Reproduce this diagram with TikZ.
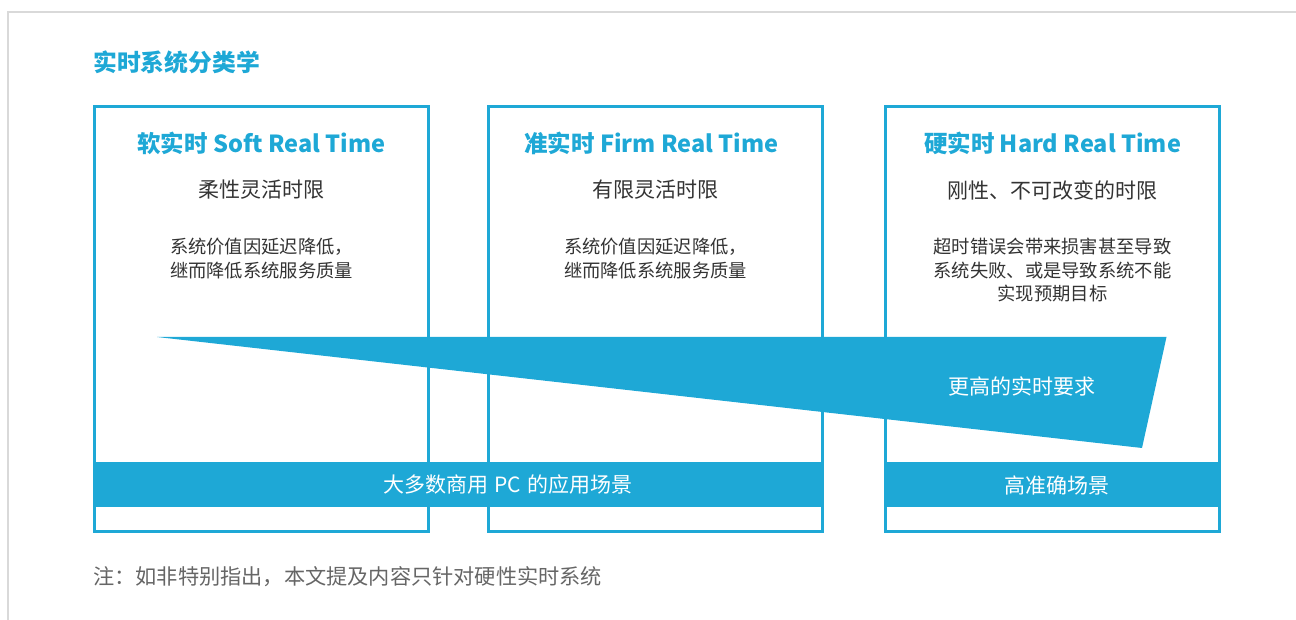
\documentclass[tikz,border=0pt]{standalone}
\usepackage{fontspec}
\setmainfont{Noto Sans CJK SC}
\definecolor{ablue}{HTML}{1EA8D6}
\definecolor{dgray}{HTML}{333333}
\definecolor{fgray}{HTML}{666666}
\definecolor{lgray}{HTML}{D9D9D9}
\tikzset{
  colbox/.style={draw=ablue, line width=2.6pt, minimum width=334pt, minimum height=425pt, inner sep=0pt},
  bar/.style={fill=ablue, minimum height=45pt, inner sep=0pt},
  bartext/.style={text=white, font=\fontsize{21}{24}\selectfont, inner sep=0pt},
  heading/.style={text=ablue, font=\bfseries\fontsize{23.5}{26}\selectfont, inner sep=0pt},
  subhead/.style={text=dgray, font=\fontsize{21}{24}\selectfont, inner sep=0pt},
  desc/.style={text=dgray, font=\fontsize{18.3}{23.5}\selectfont, align=center, inner sep=0pt},
}
\begin{document}
\begin{tikzpicture}[x=1pt,y=-1pt]
\useasboundingbox (0,0) rectangle (1296,620);
% outer frame
\draw[lgray, line width=2pt] (8,620) -- (8,12) -- (1296,12);
% title
\node[anchor=west, text=ablue, font=\bfseries\fontsize{23.8}{26}\selectfont, inner sep=0pt] (title) at (93,62) {实时系统分类学};
% column boxes
\node[colbox] (b1) at (261.5,319) {};
\node[colbox] (b2) at (655.5,319) {};
\node[colbox] (b3) at (1052.5,319) {};
% headings
\node[heading] (h1) at (261.5,143) {软实时 Soft Real Time};
\node[heading] (h2) at (651.5,143) {准实时 Firm Real Time};
\node[heading] (h3) at (1052.5,143) {硬实时 Hard Real Time};
\node[subhead] (s1) at (261.5,190) {柔性灵活时限};
\node[subhead] (s2) at (655.5,190) {有限灵活时限};
\node[subhead] (s3) at (1052.5,190) {刚性、不可改变的时限};
\node[desc] (d1) at (261.5,258.5) {系统价值因延迟降低，\\继而降低系统服务质量};
\node[desc] (d2) at (655.5,258.5) {系统价值因延迟降低，\\继而降低系统服务质量};
\node[desc] (d3) at (1052.5,270.5) {超时错误会带来损害甚至导致\\系统失败、或是导致系统不能\\实现预期目标};
% wedge
\coordinate (wl) at (157,337);
\coordinate (wtr) at (1166.5,337);
\coordinate (wbr) at (1142,448);
\fill[ablue] (wl) -- (wtr) -- (wbr) -- cycle;
\node[text=white, font=\fontsize{21}{24}\selectfont, inner sep=0pt] (wt) at (1021.5,386) {更高的实时要求};
% bars
\node[bar, minimum width=731pt] (bar1) at (458.5,484.5) {};
\node[bar, minimum width=337pt] (bar2) at (1052.5,484.5) {};
\node[bartext] (bt1) at (508,485) {大多数商用\hspace{6pt}PC\hspace{6pt}的应用场景};
\node[bartext] (bt2) at (1057,485) {高准确场景};
% footnote
\node[anchor=west, text=fgray, font=\fontsize{21.2}{24}\selectfont, inner sep=0pt] (note) at (93,577) {注：如非特别指出，本文提及内容只针对硬性实时系统};
\end{tikzpicture}
\end{document}
